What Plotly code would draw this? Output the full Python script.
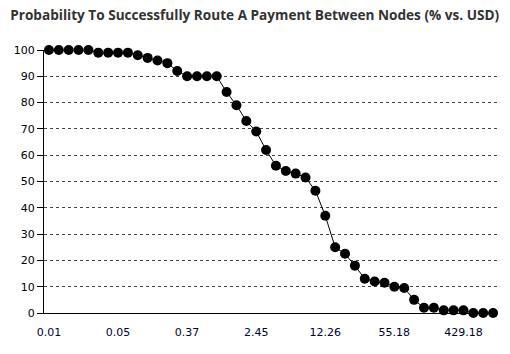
import plotly.graph_objects as go

# Data (probability % per USD amount bucket)
probability = [100, 100, 100, 100, 100, 99, 99, 99, 99, 98, 97, 96, 95, 92, 90, 90, 90, 90,
               84, 79, 73, 69, 62, 56, 54, 53, 51.5, 46.5, 37, 25, 22.5, 18, 13, 12, 11.5,
               10, 9.5, 5, 2, 2, 1, 1, 1, 0, 0, 0]
x_index = list(range(len(probability)))
tick_positions = [0, 7, 14, 21, 28, 35, 42]
tick_labels = ["0.01", "0.05", "0.37", "2.45", "12.26", "55.18", "429.18"]
y_ticks = list(range(0, 101, 10))

fig = go.Figure()
fig.add_trace(go.Scatter(
    x=x_index, y=probability, mode="lines+markers",
    line=dict(color="#000000", width=1),
    marker=dict(color="#000000", size=10),
    cliponaxis=False, showlegend=False, hoverinfo="skip"))

fig.update_layout(
    width=510, height=354,
    margin=dict(l=44, r=12, t=50, b=41),
    paper_bgcolor="white", plot_bgcolor="white",
    title=dict(text="<b>Probability To Successfully Route A Payment Between Nodes (% vs. USD)</b>",
               x=0.02, xanchor="left", y=0.958, yanchor="middle",
               font=dict(family="Open Sans", size=13.6, color="#333333")),
    font=dict(family="DejaVu Sans", size=11, color="#000000"),
)
fig.update_xaxes(
    range=[-0.5, 45.5], tickmode="array", tickvals=tick_positions, ticktext=tick_labels,
    showgrid=False, zeroline=False, showline=True, linecolor="#000000", linewidth=1,
    ticks="outside", ticklen=9, tickcolor="rgba(0,0,0,0)",
    tickfont=dict(family="DejaVu Sans", size=11, color="#000033"))
fig.update_yaxes(
    range=[0, 100], tickmode="array", tickvals=y_ticks,
    showgrid=True, gridcolor="#444444", gridwidth=1, griddash="dot",
    zeroline=False, showline=True, linecolor="#000000", linewidth=1,
    ticks="outside", ticklen=6, tickcolor="#000000",
    tickfont=dict(family="DejaVu Sans", size=11, color="#000000"))

fig.write_html("out.html")
